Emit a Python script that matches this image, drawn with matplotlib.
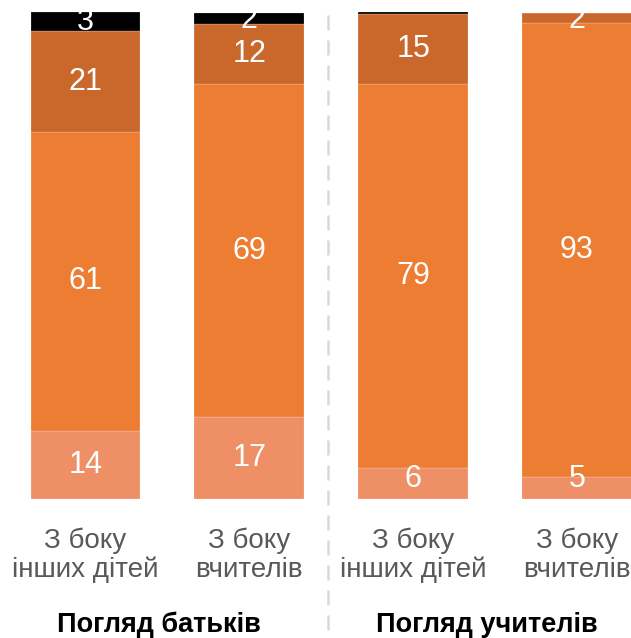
import matplotlib.pyplot as plt
import numpy as np

plt.rcParams['font.family'] = ['Liberation Sans', 'DejaVu Sans']

# data (share, %), bottom to top
line1 = ['З боку', 'З боку', 'З боку', 'З боку']
line2 = ['інших дітей', 'вчителів', 'інших дітей', 'вчителів']
groups = ['Погляд батьків', 'Погляд учителів']
light = [14.0, 16.7, 6.3, 4.5]
mid = [61.4, 68.5, 78.9, 93.3]
dark = [20.7, 12.5, 14.5, 2.0]
black = [3.9, 2.2, 0.3, 0.0]

# labels as printed on the chart
light_lbl = ['14', '17', '6', '5']
mid_lbl = ['61', '69', '79', '93']
dark_lbl = ['21', '12', '15', '2']
black_lbl = ['3', '2', '', '']

colors = ['#EF8F65', '#ED7D32', '#C9682A', '#000000']

fig = plt.figure(figsize=(6.31, 6.38), dpi=100)
ax = fig.add_axes([0, 0.2183, 1, 0.7624])

x = np.arange(len(line1))
width = 0.67
series = [light, mid, dark, black]
labels = [light_lbl, mid_lbl, dark_lbl, black_lbl]

bottom = np.zeros(len(x))
for vals, lbls, col in zip(series, labels, colors):
    vals = np.array(vals)
    ax.bar(x, vals, width, bottom=bottom, color=col, edgecolor=(1, 1, 1, 0.5), linewidth=0.3)
    for xi, b, v, t in zip(x, bottom, vals, lbls):
        if not t:
            continue
        yc = b + v / 2
        yc = min(max(yc, 4.0), 98.4)
        ax.text(xi, yc, t, ha='center', va='center', color='white', fontsize=22)
    bottom += vals

# group separator (drawn top-down so the dashes start at the top)
ax.plot([1.48, 1.48], [99.4, -28.6], color='#d9d9d9', lw=1.8, ls=(0, (6, 4)), clip_on=False)

# category labels, two lines each
for xi, a, b in zip(x, line1, line2):
    ax.text(xi, -10.2, a, ha='center', va='baseline', color='#595959', fontsize=20, clip_on=False)
    ax.text(xi, -16.04, b, ha='center', va='baseline', color='#595959', fontsize=20, clip_on=False)

for gi, g in enumerate(groups):
    ax.text(2 * gi + 0.45, -27.5, g, ha='center', va='baseline', color='black', fontsize=19.5,
            fontweight='bold', clip_on=False)

ax.set_xlim(-0.522, 3.33)
ax.set_ylim(0, 100)
ax.axis('off')

fig.savefig('out.png', dpi=100)
